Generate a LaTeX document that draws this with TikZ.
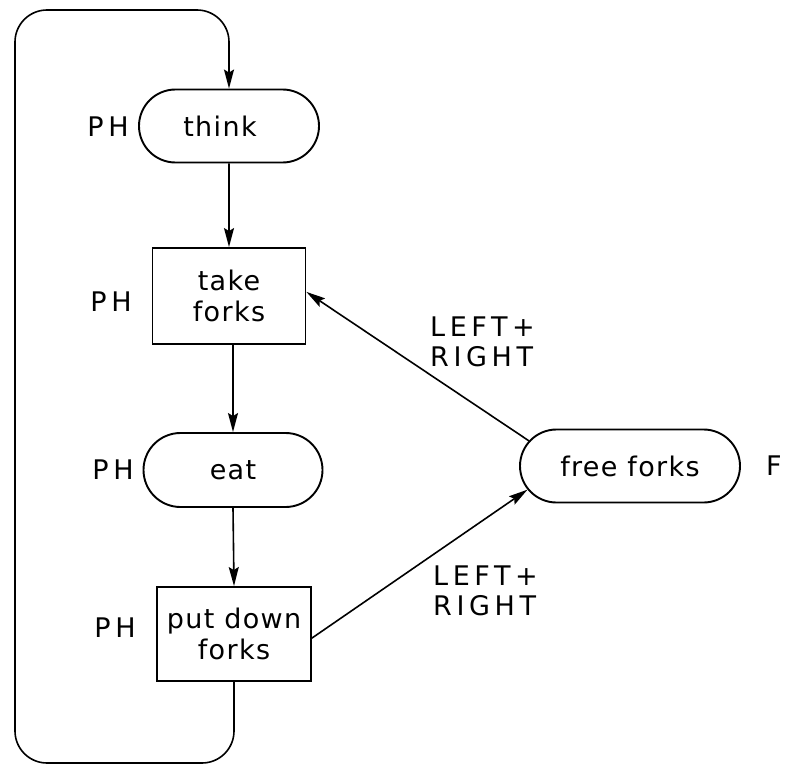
\documentclass[tikz,border=0pt]{standalone}
\usepackage{fontspec}
\setmainfont{DejaVu Sans}[LetterSpace=5]
\newfontfamily\capsfont{DejaVu Sans}[LetterSpace=17]
\usetikzlibrary{shapes.misc,arrows.meta}
\begin{document}
\begin{tikzpicture}[x=1pt,y=-1pt,
 every node/.style={font=\fontsize{27}{31}\selectfont, inner sep=0pt},
 stad/.style={draw, rounded rectangle, line width=1.9pt, minimum height=73pt},
 box/.style={draw, rectangle, line width=1.9pt, align=center},
 lab/.style={font=\capsfont\fontsize{27}{30}\selectfont},
 conn/.style={line width=1.6pt, -{Stealth[length=19pt,width=10pt,inset=3pt]}}]
\useasboundingbox (0,0) rectangle (787,765);
\node[stad, minimum width=180pt] (think) at (229,126) {think\kern18pt\relax};
\node[box, minimum width=153pt, minimum height=96pt] (take) at (229,296) {take\\forks};
\node[stad, minimum width=179pt, minimum height=74pt] (eat) at (233,470) {eat};
\node[box, minimum width=154pt, minimum height=94pt] (put) at (234,634) {put down\\forks};
\node[stad, minimum width=220pt] (ff) at (630,466) {free forks};
\node[lab] (ph1) at (108,127) {PH};
\node[lab] (ph2) at (111,302) {PH};
\node[lab] (ph3) at (113,470) {PH};
\node[lab] (ph4) at (115,628) {PH};
\node[lab] (f) at (774,466) {F};
\node[lab, align=left, anchor=west] (l1) at (430,342) {LEFT+\\RIGHT};
\node[lab, align=left, anchor=west] (l2) at (433,591) {LEFT+\\RIGHT};
\draw[conn] (think) -- (take);
\draw[conn] (eat.north |- take.south) -- (eat.north);
\draw[conn] (eat.south) -- (put.north);
\draw[conn] (ff.166) -- (take.3);
\draw[conn] (put.-3) -- (ff.193);
\draw[conn, rounded corners=32pt] (put.south) -- (put.south |- 0,763) -- (15,763) -- (15,10) -- (think.north |- 0,10) -- (think.north);
\end{tikzpicture}
\end{document}
